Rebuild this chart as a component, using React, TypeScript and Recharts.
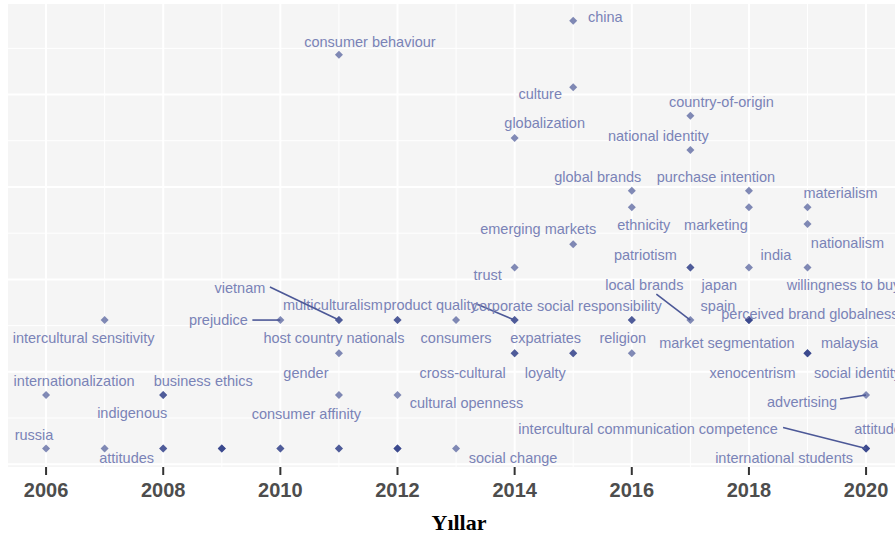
import { ScatterChart, Scatter, XAxis, YAxis, CartesianGrid, ReferenceLine } from "recharts";

// one entry per term: median year and (log-ish) frequency level
const terms = [
  "china", "consumer behaviour", "culture", "country-of-origin", "globalization", "national identity",
  "global brands", "purchase intention", "ethnicity", "marketing", "materialism", "nationalism",
  "emerging markets", "trust", "patriotism", "japan", "india", "willingness to buy",
  "intercultural sensitivity", "prejudice", "multiculturalism", "vietnam", "", "",
  "consumers", "product quality", "", "corporate social responsibility", "", "local brands",
  "spain", "perceived brand globalness", "market segmentation",
  "host country nationals", "expatriates", "cross-cultural", "loyalty", "", "religion",
  "malaysia", "xenocentrism", "social identity",
  "internationalization", "business ethics", "indigenous", "gender", "cultural openness", "advertising",
  "russia", "attitudes", "", "", "", "", "", "consumer affinity", "", "", "", "", "", "",
  "social change", "intercultural communication competence", "international students", "attitude",
];

const years = [
  2015, 2011, 2015, 2017, 2014, 2017,
  2016, 2018, 2016, 2018, 2019, 2019,
  2015, 2014, 2017, 2017, 2018, 2019,
  2007, 2010, 2011, 2011, 2012, 2012,
  2013, 2014, 2014, 2016, 2016, 2017,
  2018, 2018, 2018,
  2011, 2014, 2014, 2015, 2015, 2016,
  2019, 2019, 2019,
  2006, 2008, 2008, 2011, 2012, 2020,
  2006, 2007, 2008, 2008, 2009, 2009, 2009, 2010, 2010, 2011, 2011, 2012, 2012, 2012,
  2013, 2020, 2020, 2020,
];

const levels = [
  4.80, 4.43, 4.08, 3.77, 3.53, 3.40,
  2.96, 2.96, 2.78, 2.78, 2.78, 2.60,
  2.38, 2.13, 2.13, 2.13, 2.13, 2.13,
  1.56, 1.56, 1.56, 1.56, 1.56, 1.56,
  1.56, 1.56, 1.56, 1.56, 1.56, 1.56,
  1.56, 1.56, 1.56,
  1.20, 1.20, 1.20, 1.20, 1.20, 1.20,
  1.20, 1.20, 1.20,
  0.75, 0.75, 0.75, 0.75, 0.75, 0.75,
  0.17, 0.17, 0.17, 0.17, 0.17, 0.17, 0.17, 0.17, 0.17, 0.17, 0.17, 0.17, 0.17, 0.17,
  0.17, 0.17, 0.17, 0.17,
];

const yearTicks = [2006, 2008, 2010, 2012, 2014, 2016, 2018, 2020];
const minorYears = [2007, 2009, 2011, 2013, 2015, 2017, 2019];
const majorLevels = [0, 1, 2, 3, 4];
const minorLevels = [0.5, 1.5, 2.5, 3.5, 4.5];

// repelled label placement: [dx, dy, segment end dx, segment end dy]
const labelOffsets: Record<string, number[]> = {
  "china": [32, -4],
  "consumer behaviour": [31, -13],
  "culture": [-33, 7],
  "country-of-origin": [31, -14],
  "globalization": [30, -15],
  "national identity": [-32, -14],
  "global brands": [-34, -14],
  "purchase intention": [-33, -14],
  "ethnicity": [12, 18],
  "marketing": [-33, 18],
  "materialism": [33, -14],
  "nationalism": [40, 19],
  "emerging markets": [-35, -15],
  "trust": [-27, 8],
  "patriotism": [-45, -12],
  "japan": [29, 18],
  "india": [27, -12],
  "willingness to buy": [36, 18],
  "intercultural sensitivity": [-21, 18],
  "prejudice": [-62, 0, -28, 0],
  "multiculturalism": [-6, -15],
  "vietnam": [-99, -32, -69, -33],
  "consumers": [0, 18],
  "product quality": [-84, -15, -38, -16],
  "corporate social responsibility": [-65, -14],
  "local brands": [-46, -35, -34, -26],
  "spain": [-31, -14],
  "perceived brand globalness": [61, -6],
  "market segmentation": [-22, 23],
  "host country nationals": [-5, -15],
  "expatriates": [31, -15],
  "cross-cultural": [-52, 20],
  "loyalty": [-28, 20],
  "religion": [-9, -15],
  "malaysia": [42, -10],
  "xenocentrism": [-55, 20],
  "social identity": [50, 20],
  "internationalization": [28, -14],
  "business ethics": [40, -14],
  "indigenous": [-31, 18],
  "gender": [-33, -22],
  "cultural openness": [69, 8],
  "advertising": [-64, 7, -26, 4],
  "russia": [-12, -14],
  "attitudes": [22, 9],
  "consumer affinity": [26, -35],
  "social change": [57, 9],
  "intercultural communication competence": [-218, -20, -83, -21],
  "international students": [-82, 9],
  "attitude": [12, -20],
};

const FONT = "'Liberation Sans', Arial, Helvetica, sans-serif";

function Diamond(props: any) {
  const { cx, cy } = props;
  const r = 4;
  return (
    <polygon
      points={`${cx},${cy - r} ${cx + r},${cy} ${cx},${cy + r} ${cx - r},${cy}`}
      fill="#2e3d87"
      fillOpacity={0.6}
    />
  );
}

function TermLabel(props: any) {
  const { cx, cy, payload } = props;
  const o = payload && labelOffsets[payload.term];
  if (!o) return <g />;
  const [dx, dy, lx, ly] = o;
  return (
    <g>
      {lx !== undefined && (
        <line x1={cx} y1={cy} x2={cx + lx} y2={cy + ly} stroke="#4c5897" strokeWidth={1.6} />
      )}
      <text
        x={cx + dx}
        y={cy + dy}
        dy="0.35em"
        textAnchor="middle"
        fontSize={14.5}
        fontFamily={FONT}
        fill="#7a83b7"
      >
        {payload.term}
      </text>
    </g>
  );
}

export default function App() {
  const data = terms.map((term, i) => ({ term, year: years[i], level: levels[i] }));

  return (
    <div style={{ position: "absolute", left: 0, top: 0, width: 895, height: 537, overflow: "hidden", background: "#fff" }}>
      <ScatterChart width={910} height={537} margin={{ top: 4, right: 0, bottom: 0, left: 8 }}>
        <CartesianGrid fill="#f5f5f5" horizontal={false} vertical={false} />
        <XAxis
          type="number"
          dataKey="year"
          domain={[2005.35, 2020.75]}
          ticks={yearTicks}
          height={70}
          axisLine={false}
          tickSize={8}
          tickMargin={8}
          tickLine={{ stroke: "#333333", strokeWidth: 2 }}
          tick={{ fontSize: 20, fontWeight: "bold", fill: "#4d4d4d", fontFamily: FONT }}
          label={{
            value: "Yıllar",
            position: "insideBottom",
            offset: 7,
            fontSize: 22,
            fontWeight: "bold",
            fill: "#000",
            fontFamily: "'Liberation Serif', 'Times New Roman', serif",
          }}
        />
        <YAxis type="number" dataKey="level" domain={[-0.03, 4.98]} hide />
        {minorLevels.map((v) => (
          <ReferenceLine key={"my" + v} y={v} stroke="#ffffff" strokeWidth={1} />
        ))}
        {minorYears.map((v) => (
          <ReferenceLine key={"mx" + v} x={v} stroke="#ffffff" strokeWidth={1} />
        ))}
        {majorLevels.map((v) => (
          <ReferenceLine key={"My" + v} y={v} stroke="#ffffff" strokeWidth={2} />
        ))}
        {yearTicks.map((v) => (
          <ReferenceLine key={"Mx" + v} x={v} stroke="#ffffff" strokeWidth={2} />
        ))}
        <Scatter data={data} shape={<Diamond />} isAnimationActive={false} />
        <Scatter data={data} shape={<TermLabel />} isAnimationActive={false} legendType="none" />
      </ScatterChart>
    </div>
  );
}
